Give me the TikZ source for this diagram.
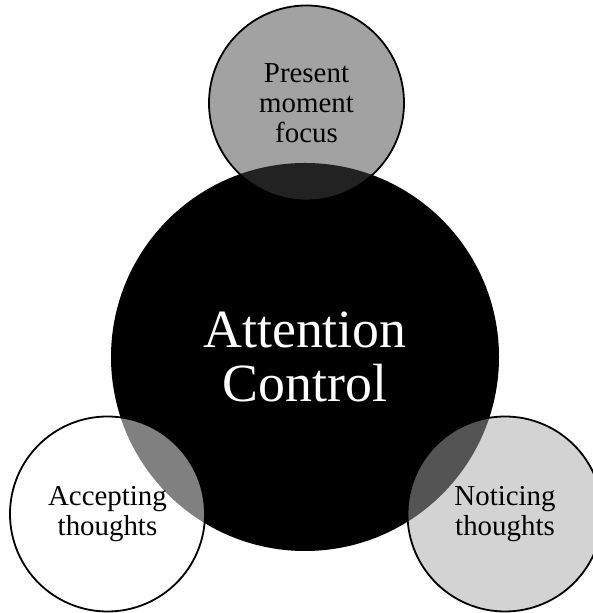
\documentclass[tikz,border=0pt]{standalone}
\usepackage{fontspec}
\setmainfont{Liberation Serif}
\usepackage{xcolor}
\usetikzlibrary{positioning}
\definecolor{focusgray}{gray}{0.27}
\definecolor{noticegray}{gray}{0.66}
\tikzset{
  core/.style={circle, fill=black, text=white, align=center, inner sep=0pt,
    minimum size=388bp, font=\fontsize{54}{55}\selectfont},
  petal/.style={circle, draw=black, line width=1.8bp, fill opacity=0.5,
    text opacity=1, align=center, inner sep=0pt, minimum size=195bp,
    font=\fontsize{29}{30}\selectfont}
}
\begin{document}
\begin{tikzpicture}[x=1bp, y=1bp]
     \useasboundingbox (0,0) rectangle (593,613);
     \clip (0,0) rectangle (593,613);
     % central circle
     \node[core] (attn) at (305,256) {Attention\\Control};
     % the three outer circles, half see-through
     \node[petal, fill=focusgray] (focus) at (306.5,510) {Present\\moment\\focus};
     \node[petal, fill=white] (accept) at (107.5,99) {Accepting\\thoughts};
     \node[petal, fill=noticegray] (notice) at (505,99) {Noticing\\thoughts};
\end{tikzpicture}
\end{document}
